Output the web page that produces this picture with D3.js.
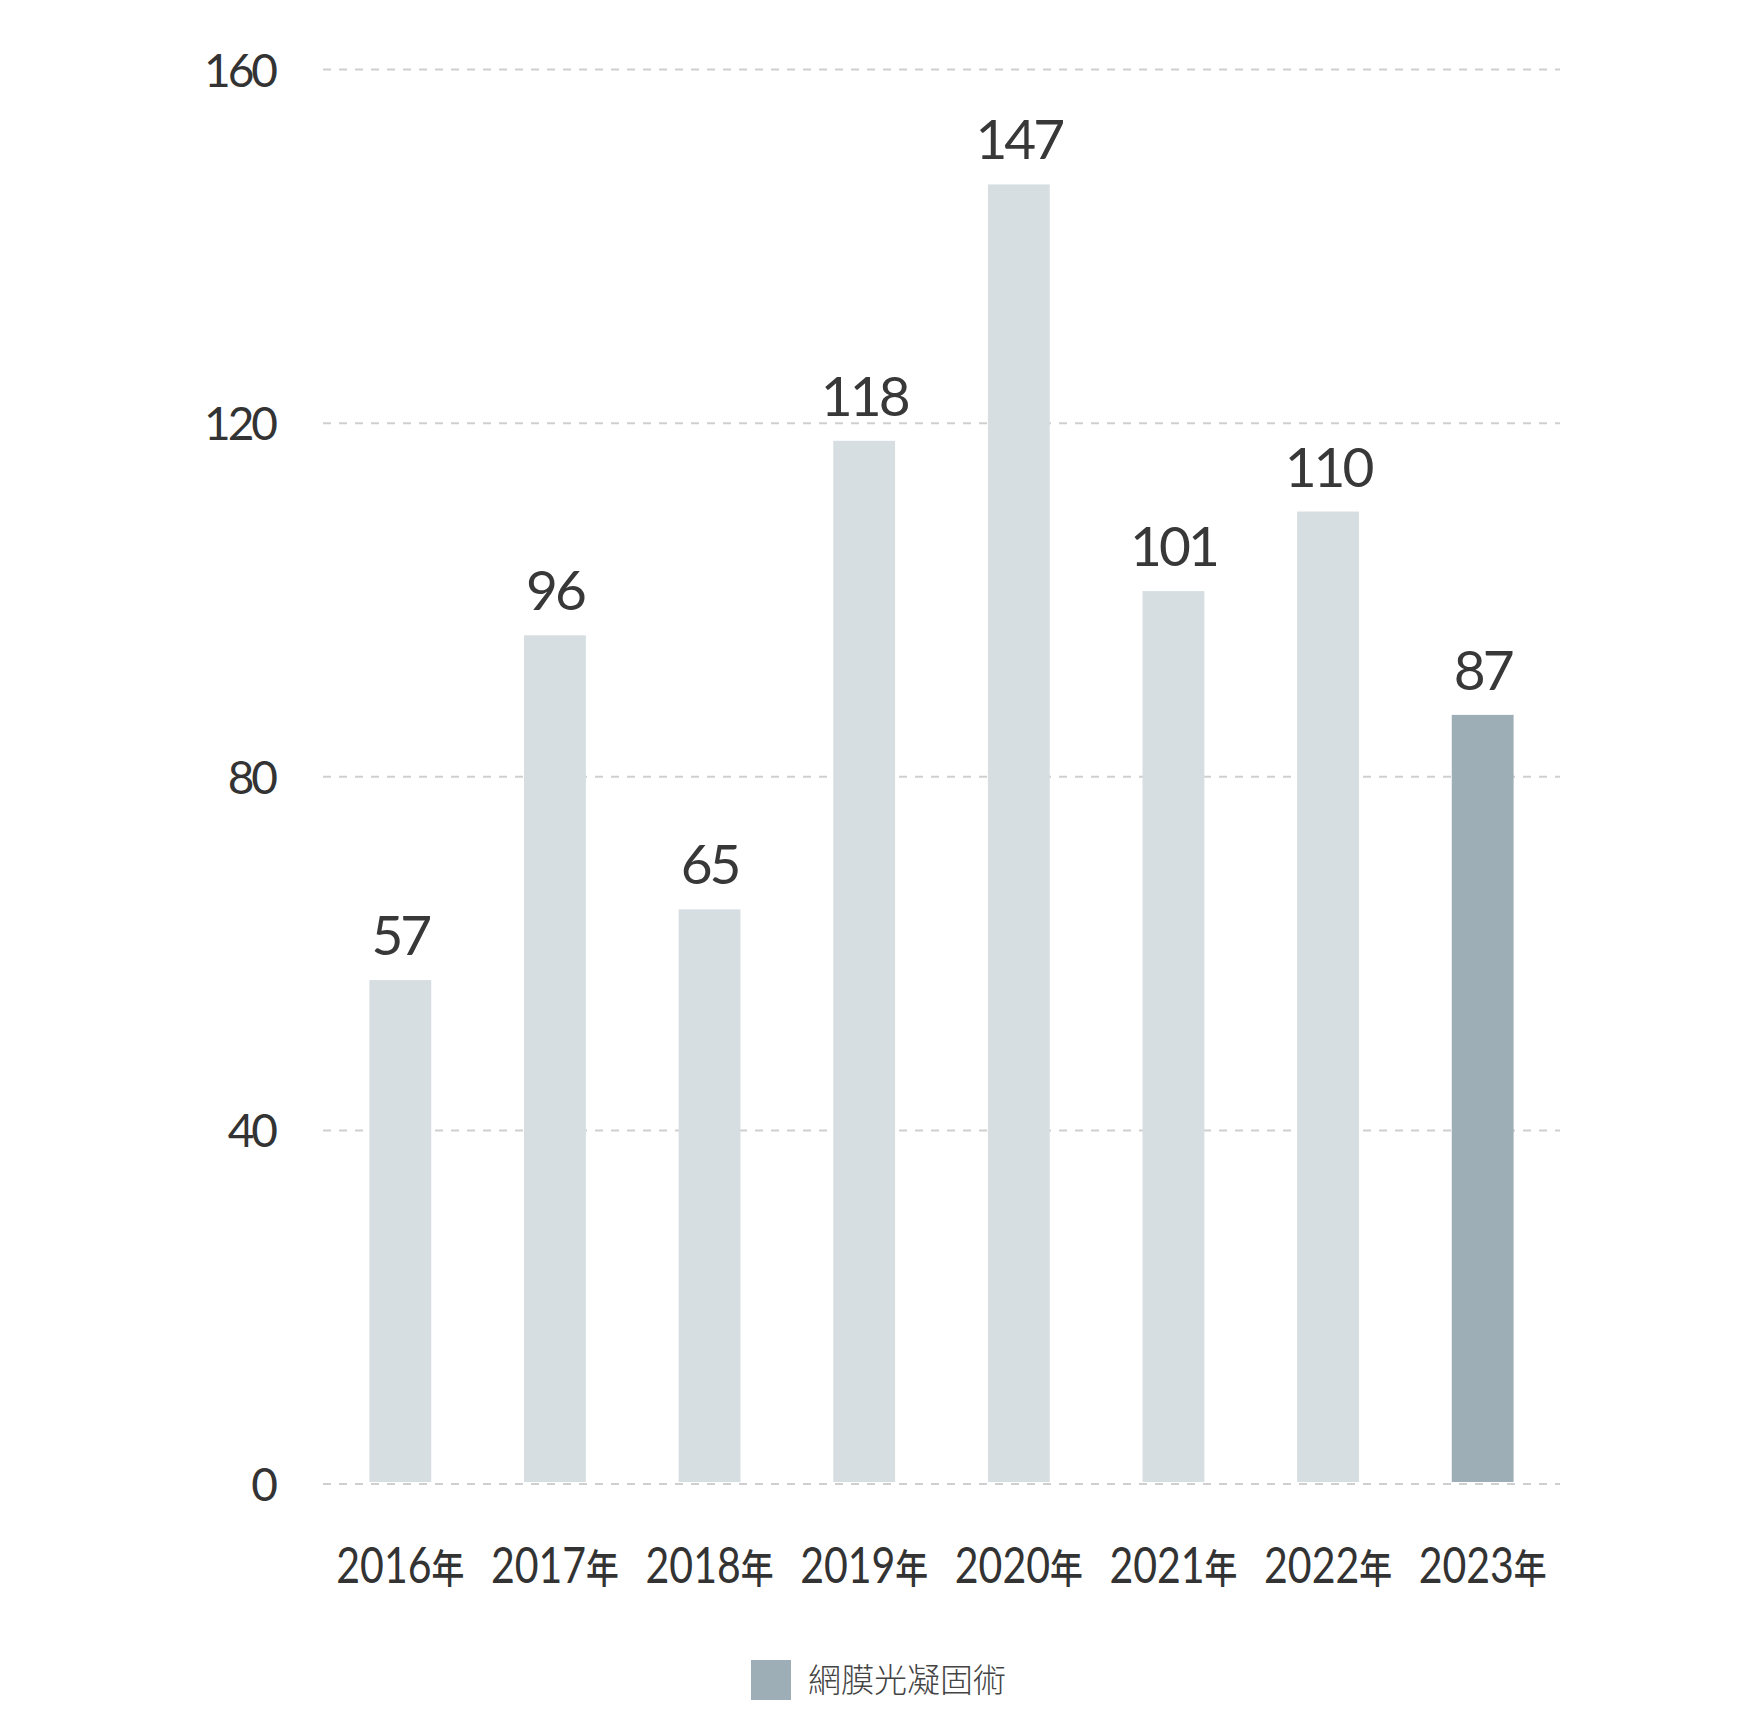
<!DOCTYPE html>
<html>
<head>
<meta charset="utf-8">
<script src="https://cdn.jsdelivr.net/npm/d3@7"></script>
<style>
  html, body { margin: 0; padding: 0; background: #fff; }
  svg { display: block; }
</style>
</head>
<body>
<svg id="chart" width="1760" height="1712"></svg>
<script>
const years = ["2016", "2017", "2018", "2019", "2020", "2021", "2022", "2023"];
const yearSuffix = "年";
const values = [57, 96, 65, 118, 147, 101, 110, 87];
const yTicks = [0, 40, 80, 120, 160];
const highlightYear = "2023";
const seriesName = "網膜光凝固術";

const svg = d3.select("#chart");
const latin = "Lato, 'Noto Sans', sans-serif";
const cjk = "'Noto Sans CJK TC', 'Noto Sans CJK JP', sans-serif";

const x = d3.scaleBand().domain(years).range([323, 1560]).paddingInner(0.6).paddingOuter(0.3);
const y = d3.scaleLinear().domain([0, 160]).range([1484, 69.5]);

// gridlines
svg.append("g").selectAll("line").data(yTicks).join("line")
  .attr("x1", 323).attr("x2", 1560)
  .attr("y1", d => y(d)).attr("y2", d => y(d))
  .attr("stroke", "#cfcfcf").attr("stroke-width", 2)
  .attr("stroke-dasharray", "8,8");

// y labels
svg.append("g").selectAll("text").data(yTicks).join("text")
  .attr("x", 275).attr("y", d => y(d) + 17)
  .attr("text-anchor", "end")
  .attr("font-family", latin).attr("font-size", 46)
  .attr("letter-spacing", -3)
  .attr("fill", "#333").text(d => d);

// bars
svg.append("g").selectAll("rect").data(years).join("rect")
  .attr("x", d => x(d))
  .attr("width", x.bandwidth())
  .attr("y", (d, i) => y(values[i]))
  .attr("height", (d, i) => y(0) - 2 - y(values[i]))
  .attr("fill", d => d === highlightYear ? "#9eaeb7" : "#d6dee2");

// value labels
svg.append("g").selectAll("text").data(years).join("text")
  .attr("x", d => x(d) + x.bandwidth() / 2)
  .attr("y", (d, i) => y(values[i]) - 25)
  .attr("text-anchor", "middle")
  .attr("font-family", latin).attr("font-size", 55)
  .attr("letter-spacing", -3)
  .attr("fill", "#383838").text((d, i) => values[i]);

// x labels (horizontally condensed to match the narrow reference face)
const xg = svg.append("g").selectAll("g").data(years).join("g");
const xl = xg.append("text")
  .attr("text-anchor", "middle")
  .attr("font-family", latin).attr("font-size", 50)
  .attr("fill", "#333");
xl.append("tspan").text(d => d);
xl.append("tspan").attr("font-family", cjk).attr("font-size", 40).attr("font-weight", 500).text(yearSuffix);
xg.attr("transform", function(d) {
  const w = this.querySelector("text").getComputedTextLength();
  const s = 128 / w;
  return `translate(${x(d) + x.bandwidth() / 2},1583) scale(${s},1)`;
});

// legend
const lg = svg.append("g");
lg.append("rect").attr("x", 751).attr("y", 1660).attr("width", 40).attr("height", 40).attr("fill", "#9eaeb7");
lg.append("text").attr("x", 808).attr("y", 1692)
  .attr("font-family", cjk).attr("font-size", 33).attr("font-weight", 300)
  .attr("fill", "#444").text(seriesName);
</script>
</body>
</html>
